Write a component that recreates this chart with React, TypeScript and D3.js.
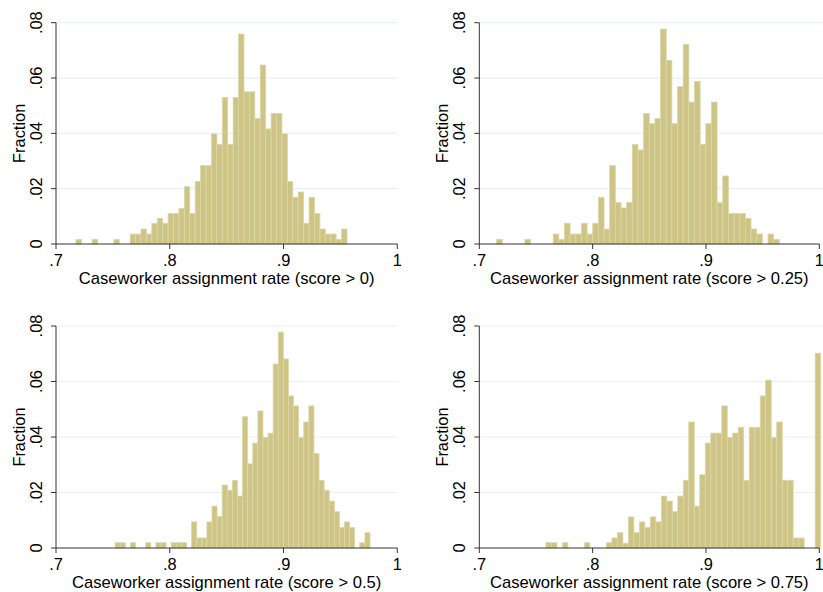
import React from "react";
import * as d3 from "d3";

// ---------- data ----------
const xTicks = [0.7, 0.8, 0.9, 1];
const xTickLabels = [".7", ".8", ".9", "1"];
const yTicks = [0, 0.02, 0.04, 0.06, 0.08];
const yTickLabels = ["0", ".02", ".04", ".06", ".08"];
const yTitle = "Fraction";

const titles = [
  "Caseworker assignment rate (score > 0)",
  "Caseworker assignment rate (score > 0.25)",
  "Caseworker assignment rate (score > 0.5)",
  "Caseworker assignment rate (score > 0.75)",
];

// bin ranges [start, end] — 50 equal bins each
const binRange0 = [0.7175, 0.9558];
const binRange25 = [0.7153, 0.9647];
const binRange50 = [0.752, 0.976];
const binRange75 = [0.7588, 1.0012];

const frac0 = [
  0.0017, 0, 0, 0.0017, 0, 0, 0, 0.0017, 0, 0,
  0.0036, 0.0036, 0.0054, 0.0036, 0.0075, 0.0093, 0.0075, 0.011, 0.011, 0.0129,
  0.0207, 0.011, 0.0226, 0.0283, 0.0283, 0.0398, 0.036, 0.053, 0.036, 0.053,
  0.0759, 0.055, 0.055, 0.0454, 0.0647, 0.0416, 0.0472, 0.0472, 0.0398, 0.0226,
  0.0169, 0.0188, 0.0075, 0.0169, 0.011, 0.0054, 0.0036, 0.0036, 0.0017, 0.0054,
];
const frac25 = [
  0.0017, 0, 0, 0, 0, 0.0017, 0, 0, 0, 0,
  0.0036, 0.0017, 0.0075, 0.0036, 0.0036, 0.0075, 0.0036, 0.0075, 0.0169, 0.0054,
  0.0283, 0.015, 0.013, 0.015, 0.036, 0.034, 0.0472, 0.0435, 0.0454, 0.0777,
  0.0664, 0.0435, 0.0569, 0.0722, 0.0513, 0.0588, 0.036, 0.0435, 0.0513, 0.015,
  0.0246, 0.011, 0.011, 0.011, 0.0093, 0.0054, 0.0036, 0, 0.0036, 0.0017,
];
const frac50 = [
  0.0019, 0.0019, 0, 0.0019, 0, 0, 0.0019, 0, 0.0019, 0.0019,
  0, 0.0019, 0.0019, 0.0019, 0, 0.0094, 0.0036, 0.0036, 0.0094, 0.0151,
  0.0113, 0.0227, 0.0208, 0.0244, 0.0187, 0.0473, 0.0303, 0.0378, 0.0494, 0.0398,
  0.0414, 0.0663, 0.0778, 0.0681, 0.0548, 0.0512, 0.0398, 0.0454, 0.0512, 0.034,
  0.0244, 0.0208, 0.0169, 0.0131, 0.0074, 0.0094, 0.0074, 0, 0.0019, 0.0055,
];
const frac75 = [
  0.0019, 0.0019, 0, 0.0019, 0, 0, 0, 0.0019, 0, 0,
  0, 0.0019, 0.0036, 0.0055, 0.0017, 0.0112, 0.0055, 0.0094, 0.0074, 0.0112,
  0.0094, 0.0187, 0.0169, 0.0131, 0.0187, 0.0244, 0.0454, 0.0151, 0.0264, 0.0378,
  0.0414, 0.0414, 0.0512, 0.0398, 0.0414, 0.0435, 0.0244, 0.0435, 0.0435, 0.0548,
  0.0605, 0.0398, 0.0454, 0.0244, 0.0244, 0.0036, 0.0036, 0, 0, 0.0702,
];

const panelsData = [
  { title: titles[0], range: binRange0, frac: frac0 },
  { title: titles[1], range: binRange25, frac: frac25 },
  { title: titles[2], range: binRange50, frac: frac50 },
  { title: titles[3], range: binRange75, frac: frac75 },
];

// ---------- layout ----------
const W = 823;
const H = 592;
const colX = [
  [56, 397.3],
  [479.3, 819.3],
];
const rowY = [
  [244, 22.7],
  [548, 326],
];
const FONT = "'Liberation Sans', Arial, Helvetica, sans-serif";
const BAR_FILL = "#cdc486";
const BAR_STROKE = "#ddd7a8";
const GRID = "#e9f0f2";
const AXIS = "#333";

function Panel({ idx }: { idx: number }) {
  const p = panelsData[idx];
  const [x0, x1] = colX[idx % 2];
  const [yb, yt] = rowY[Math.floor(idx / 2)];
  const x = d3.scaleLinear().domain([0.7, 1]).range([x0, x1]);
  const y = d3.scaleLinear().domain([0, 0.08]).range([yb, yt]);
  const n = p.frac.length;
  const bw = (p.range[1] - p.range[0]) / n;
  const gridRight = idx % 2 === 0 ? x1 : W;

  return (
    <g>
      {yTicks.slice(1).map((t) => (
        <line key={"g" + t} x1={x0} x2={gridRight} y1={y(t)} y2={y(t)} stroke={GRID} strokeWidth={1.2} />
      ))}
      {p.frac.map((f, i) => {
        if (f <= 0) return null;
        const a = x(p.range[0] + i * bw);
        const b = x(p.range[0] + (i + 1) * bw);
        return (
          <rect
            key={i}
            x={a}
            y={y(f)}
            width={b - a}
            height={y(0) - y(f)}
            fill={BAR_FILL}
            stroke={BAR_STROKE}
            strokeWidth={0.8}
          />
        );
      })}
      {/* y axis */}
      <line x1={x0} x2={x0} y1={y(0)} y2={y(0.08)} stroke={AXIS} strokeWidth={1} />
      {yTicks.map((t, i) => (
        <g key={"y" + t}>
          <line x1={x0 - 5} x2={x0} y1={y(t)} y2={y(t)} stroke={AXIS} strokeWidth={1} />
          <text
            transform={`translate(${x0 - 14},${y(t)}) rotate(-90)`}
            textAnchor="middle"
            fontFamily={FONT}
            fontSize={16.4}
            fill="#000"
          >
            {yTickLabels[i]}
          </text>
        </g>
      ))}
      <text
        transform={`translate(${x0 - 31},${(y(0) + y(0.08)) / 2}) rotate(-90)`}
        textAnchor="middle"
        fontFamily={FONT}
        fontSize={16.4}
        fill="#000"
      >
        {yTitle}
      </text>
      {/* x axis */}
      <line x1={x0} x2={x1} y1={y(0)} y2={y(0)} stroke={AXIS} strokeWidth={1} />
      {xTicks.map((t, i) => (
        <g key={"x" + t}>
          <line x1={x(t)} x2={x(t)} y1={y(0)} y2={y(0) + 5} stroke={AXIS} strokeWidth={1} />
          <text x={x(t)} y={y(0) + 22} textAnchor="middle" fontFamily={FONT} fontSize={16.4} fill="#000">
            {xTickLabels[i]}
          </text>
        </g>
      ))}
      <text x={(x0 + x1) / 2} y={y(0) + 40} textAnchor="middle" fontFamily={FONT} fontSize={16.6} fill="#000">
        {p.title}
      </text>
    </g>
  );
}

export default function App() {
  return (
    <svg
      width={W}
      height={H}
      viewBox={`0 0 ${W} ${H}`}
      style={{ position: "absolute", left: 0, top: 0, background: "#fff" }}
    >
      <rect x={0} y={0} width={W} height={H} fill="#fff" />
      {[0, 1, 2, 3].map((i) => (
        <Panel key={i} idx={i} />
      ))}
    </svg>
  );
}
